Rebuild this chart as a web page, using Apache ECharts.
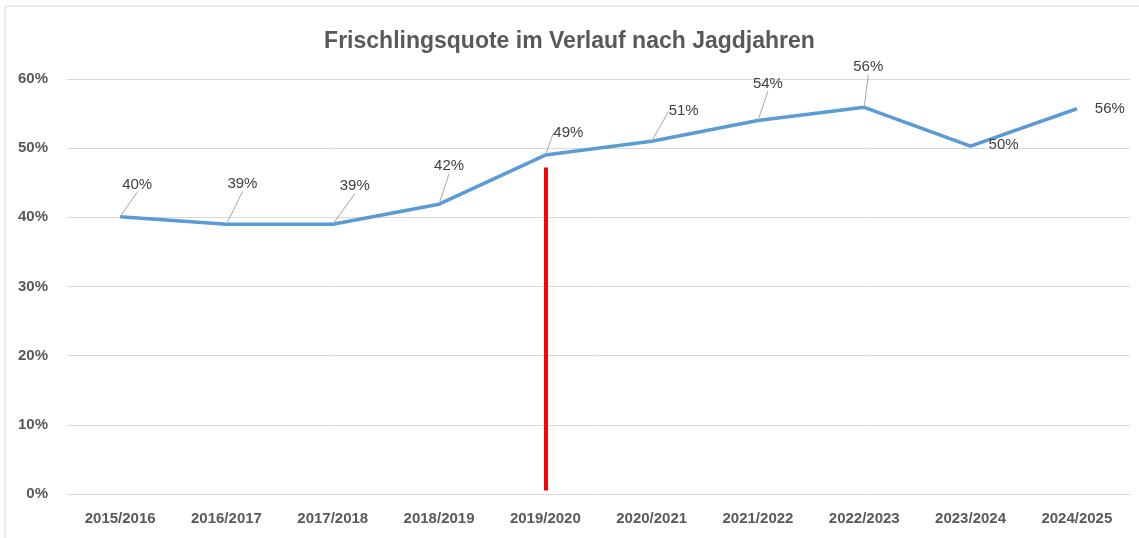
<!DOCTYPE html>
<html>
<head>
<meta charset="utf-8">
<script src="https://cdn.jsdelivr.net/npm/echarts@6/dist/echarts.min.js"></script>
<style>
html,body{margin:0;padding:0;background:#fff;}
#chart{width:1139px;height:538px;}
</style>
</head>
<body>
<div id="chart"></div>
<script>
// Data
const categories = ['2015/2016','2016/2017','2017/2018','2018/2019','2019/2020','2020/2021','2021/2022','2022/2023','2023/2024','2024/2025'];
const quote = [40.1, 39.0, 39.0, 41.9, 49.0, 51.0, 54.0, 55.9, 50.3, 55.7];
const yTicks = [0, 10, 20, 30, 40, 50, 60];
const markerCategory = '2019/2020';
const markerRange = [0.5, 47.2];
const titleText = 'Frischlingsquote im Verlauf nach Jagdjahren';

// Label offsets (style only)
const labelShift = [[17,-19],[16,-27],[22,-25],[10,-25],[23,-9],[32,-17],[10,-24],[4,-27],[33,12],[33,13]];
const labelLineShown = [true,true,true,true,true,true,true,true,false,false];

const font = 'Liberation Sans, Arial, sans-serif';
const chart = echarts.init(document.getElementById('chart'));
const txt = '#595959';
chart.setOption({
  animation: false,
  backgroundColor: '#fff',
  title: {
    text: titleText, left: 'center', top: 25,
    textStyle: { fontFamily: font, fontSize: 23, fontWeight: 'bold', color: txt }
  },
  graphic: [
    { type: 'line', shape: { x1: 5, y1: 6, x2: 1139, y2: 6 }, style: { stroke: '#d9d9d9', lineWidth: 1 } },
    { type: 'line', shape: { x1: 5, y1: 6, x2: 5, y2: 538 }, style: { stroke: '#d9d9d9', lineWidth: 1 } }
  ],
  grid: { left: 67, right: 9, top: 79, bottom: 44 },
  xAxis: {
    type: 'category', data: categories, boundaryGap: true,
    axisLine: { show: true, lineStyle: { color: '#d9d9d9' } },
    axisTick: { show: false },
    axisLabel: { margin: 17, color: txt, fontWeight: 'bold', fontSize: 15, fontFamily: font, interval: 0 }
  },
  yAxis: {
    type: 'value', min: yTicks[0], max: yTicks[yTicks.length-1], interval: 10,
    axisLine: { show: false }, axisTick: { show: false },
    splitLine: { lineStyle: { color: '#d9d9d9', width: 1 } },
    axisLabel: { margin: 19, color: txt, fontWeight: 'bold', fontSize: 15, fontFamily: font, formatter: v => v + '%' }
  },
  series: [
    {
      type: 'line',
      data: quote.map((v, i) => ({ value: v, labelLine: { show: labelLineShown[i] } })),
      symbol: 'circle', symbolSize: 1, showSymbol: true,
      itemStyle: { color: '#5b9bd5' },
      lineStyle: { color: '#5b9bd5', width: 3.5 },
      label: {
        show: true, position: 'top', distance: 5,
        formatter: p => Math.round(p.value) + '%',
        color: '#404040', fontSize: 15, fontFamily: font
      },
      labelLine: { show: true, lineStyle: { color: '#a6a6a6', width: 1 } },
      labelLayout: p => ({ dx: labelShift[p.dataIndex][0], dy: labelShift[p.dataIndex][1] }),
      markLine: {
        silent: true, symbol: ['none','none'],
        label: { show: false },
        lineStyle: { color: '#ff0000', width: 4, type: 'solid' },
        data: [[ { coord: [markerCategory, markerRange[0]] }, { coord: [markerCategory, markerRange[1]] } ]]
      },
      z: 3
    }
  ]
});
</script>
</body>
</html>
